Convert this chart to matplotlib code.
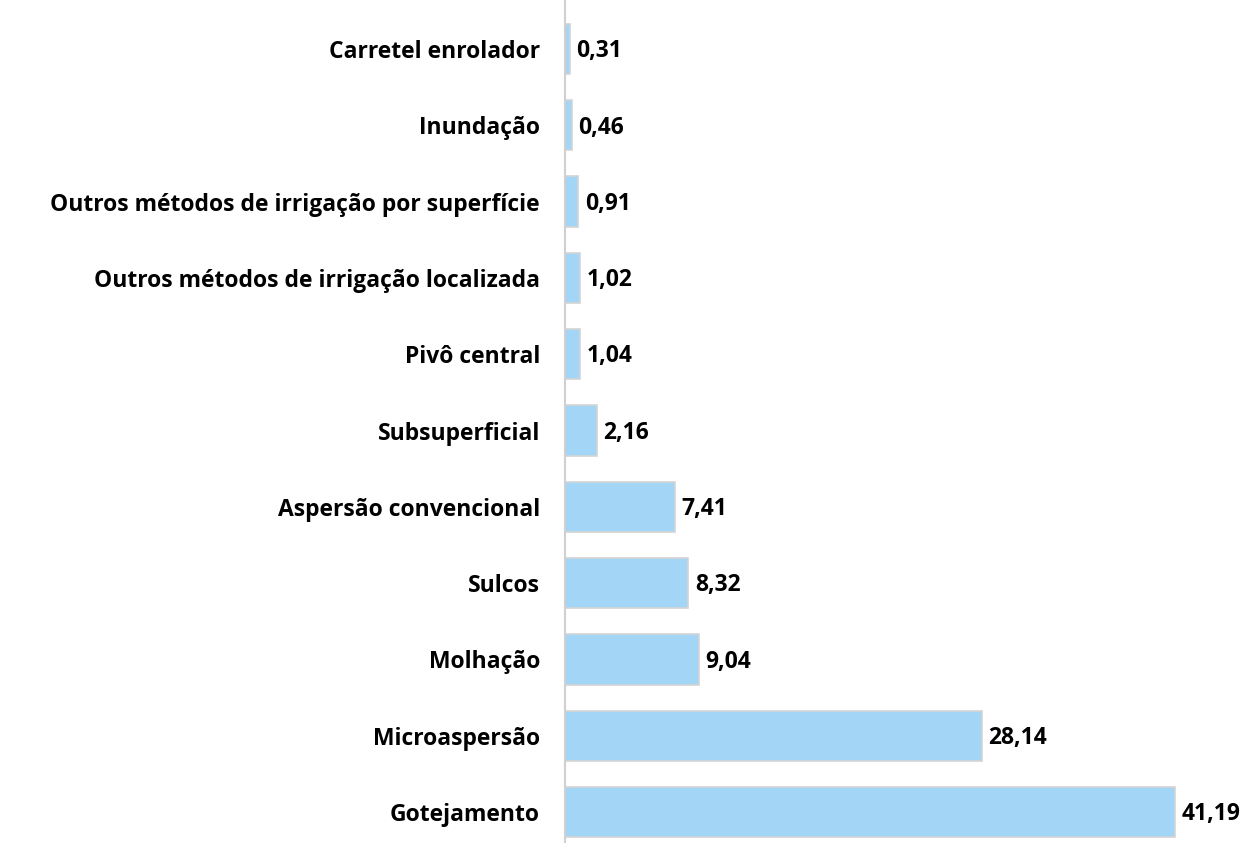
import matplotlib
matplotlib.use("Agg")
import matplotlib.pyplot as plt

categorias = [
    "Gotejamento",
    "Microaspersão",
    "Molhação",
    "Sulcos",
    "Aspersão convencional",
    "Subsuperficial",
    "Pivô central",
    "Outros métodos de irrigação localizada",
    "Outros métodos de irrigação por superfície",
    "Inundação",
    "Carretel enrolador",
]
valores = [41.19, 28.14, 9.04, 8.32, 7.41, 2.16, 1.04, 1.02, 0.91, 0.46, 0.31]

plt.rcParams['font.family'] = ['Open Sans', 'DejaVu Sans']

fig = plt.figure(figsize=(12.42, 8.43), dpi=100)
ax = fig.add_axes([565 / 1242, 0.0, 1 - 565 / 1242, 1.0])

pos = list(range(len(categorias)))
ax.barh(pos, valores, height=0.66, color='#a3d5f7', edgecolor='#d4d4d4', linewidth=1.2)

for y, v in zip(pos, valores):
    ax.text(v + 0.45, y - 0.03, f"{v:.2f}".replace('.', ','), va='center', ha='left',
            fontsize=16.5, fontweight='bold', color='black')

ax.set_yticks(pos)
ax.set_yticklabels(categorias, fontsize=16.5, fontweight='bold')
ax.tick_params(axis='y', length=0, pad=18)
ax.set_xticks([])
ax.set_xlim(0, 677 / 14.81)
ax.set_ylim(-0.406, 10.642)

for s in ['top', 'right', 'bottom']:
    ax.spines[s].set_visible(False)
ax.spines['left'].set_color('#d0d0d0')
ax.spines['left'].set_linewidth(1.5)

fig.savefig('out.png', dpi=100)
